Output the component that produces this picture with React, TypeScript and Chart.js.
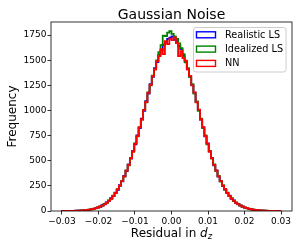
import { useEffect, useRef } from "react";
import { Chart, registerables } from "chart.js";

Chart.register(...registerables);

// Histogram binning (range -0.03 .. 0.03, 100 bins)
const BIN_START = -0.03;
const BIN_WIDTH = 0.0006;

const seriesLabels = ["Realistic LS", "Idealized LS", "NN"];
const seriesColors = ["#0000ff", "#008000", "#ff0000"];

const realisticCounts = [
  0, 0, 1, 2, 1, 2, 3, 3, 5, 6, 7, 11, 12, 18, 21, 29, 36, 42, 57, 66,
  86, 101, 127, 148, 183, 211, 256, 294, 350, 396, 463, 520, 598, 664, 751, 825, 918, 996, 1092, 1168,
  1262, 1334, 1421, 1480, 1555, 1598, 1655, 1678, 1712, 1725,
  1738, 1702, 1690, 1642, 1610, 1543, 1490, 1409, 1343, 1252, 1178, 1082, 1004, 909, 833, 742, 672, 590, 528, 455,
  404, 341, 300, 249, 217, 177, 153, 121, 105, 81, 70, 53, 45, 33, 29, 20, 18, 12, 11, 7,
  6, 4, 4, 2, 2, 1, 1, 0, 1, 0,
];

const idealizedCounts = [
  1, 0, 1, 1, 2, 1, 2, 4, 4, 5, 9, 9, 14, 16, 23, 27, 34, 46, 53, 70,
  82, 105, 122, 153, 177, 218, 250, 300, 342, 405, 455, 528, 590, 673, 742, 834, 908, 1006, 1081, 1180,
  1250, 1346, 1408, 1497, 1580, 1650, 1745, 1740, 1775, 1790,
  1762, 1738, 1712, 1668, 1620, 1560, 1478, 1420, 1332, 1262, 1168, 1090, 995, 918, 824, 752, 663, 598, 520, 463,
  396, 350, 292, 256, 210, 183, 147, 128, 99, 86, 66, 57, 42, 37, 26, 23, 15, 14, 9, 8,
  5, 5, 3, 2, 1, 2, 0, 1, 0, 0,
];

const nnCounts = [
  0, 1, 0, 1, 2, 2, 3, 3, 4, 7, 8, 10, 14, 17, 21, 29, 35, 45, 54, 69,
  83, 104, 124, 151, 179, 216, 252, 298, 345, 402, 458, 526, 592, 670, 745, 832, 910, 1004, 1084, 1176,
  1254, 1342, 1410, 1490, 1540, 1610, 1560, 1690, 1660, 1715,
  1700, 1728, 1670, 1540, 1590, 1520, 1496, 1410, 1345, 1250, 1180, 1080, 1008, 910, 832, 744, 671, 592, 526, 458,
  402, 344, 298, 250, 216, 179, 151, 123, 104, 82, 69, 54, 45, 34, 28, 21, 17, 13, 10, 8,
  6, 4, 3, 3, 2, 1, 1, 1, 0, 0,
];

const xTicks = [-0.03, -0.02, -0.01, 0, 0.01, 0.02, 0.03];
const yTicks = [0, 250, 500, 750, 1000, 1250, 1500, 1750];

const X_MIN = -0.033;
const X_MAX = 0.033;
const Y_MIN = 0;
const Y_MAX = 1880;

const TITLE = "Gaussian Noise";
const Y_LABEL = "Frequency";
const X_LABEL_MAIN = "Residual in ";
const X_LABEL_VAR = "d";
const X_LABEL_SUB = "z";

const FONT = '"DejaVu Sans", sans-serif';

function toSteps(counts: number[]) {
  const pts: { x: number; y: number }[] = [{ x: BIN_START, y: 0 }];
  counts.forEach((c, i) => pts.push({ x: BIN_START + i * BIN_WIDTH, y: c }));
  pts.push({ x: BIN_START + counts.length * BIN_WIDTH, y: 0 });
  return pts;
}

function fmtX(v: number) {
  return Number(v).toFixed(2).replace("-", "\u2212");
}

const decorPlugin = {
  id: "decor",
  afterDatasetsDraw(chart: any) {
    const { ctx, chartArea } = chart;
    const { left, top, right, bottom } = chartArea;
    ctx.save();
    ctx.strokeStyle = "#000";
    ctx.lineWidth = 0.8;
    ctx.strokeRect(left, top, right - left, bottom - top);
    ctx.restore();
  },
  afterDraw(chart: any) {
    const { ctx, chartArea } = chart;
    const { left, top, right, bottom } = chartArea;
    const cx = (left + right) / 2;
    ctx.save();
    ctx.fillStyle = "#000";
    // Title
    ctx.font = `14px ${FONT}`;
    ctx.textAlign = "center";
    ctx.textBaseline = "alphabetic";
    ctx.fillText(TITLE, cx, 18.5);

    // X label with italic subscripted variable
    const mainFont = `12px ${FONT}`;
    const varFont = `italic 12px ${FONT}`;
    const subFont = `italic 8.5px ${FONT}`;
    ctx.font = mainFont;
    const w1 = ctx.measureText(X_LABEL_MAIN).width;
    ctx.font = varFont;
    const w2 = ctx.measureText(X_LABEL_VAR).width;
    ctx.font = subFont;
    const w3 = ctx.measureText(X_LABEL_SUB).width;
    const total = w1 + w2 + w3;
    let x0 = cx - total / 2;
    const base = 237;
    ctx.textAlign = "left";
    ctx.font = mainFont;
    ctx.fillText(X_LABEL_MAIN, x0, base);
    x0 += w1;
    ctx.font = varFont;
    ctx.fillText(X_LABEL_VAR, x0, base);
    x0 += w2;
    ctx.font = subFont;
    ctx.fillText(X_LABEL_SUB, x0, base + 2.2);

    // Y label
    ctx.save();
    ctx.translate(16, (top + bottom) / 2);
    ctx.rotate(-Math.PI / 2);
    ctx.font = `12px ${FONT}`;
    ctx.textAlign = "center";
    ctx.fillText(Y_LABEL, 0, 0);
    ctx.restore();

    // Legend
    const bx = 193.5, by = 27.5, bw = 92.5, bh = 44.5, r = 2.5;
    ctx.beginPath();
    ctx.moveTo(bx + r, by);
    ctx.lineTo(bx + bw - r, by);
    ctx.arcTo(bx + bw, by, bx + bw, by + r, r);
    ctx.lineTo(bx + bw, by + bh - r);
    ctx.arcTo(bx + bw, by + bh, bx + bw - r, by + bh, r);
    ctx.lineTo(bx + r, by + bh);
    ctx.arcTo(bx, by + bh, bx, by + bh - r, r);
    ctx.lineTo(bx, by + r);
    ctx.arcTo(bx, by, bx + r, by, r);
    ctx.closePath();
    ctx.fillStyle = "rgba(255,255,255,0.8)";
    ctx.fill();
    ctx.strokeStyle = "#cccccc";
    ctx.lineWidth = 1;
    ctx.stroke();

    ctx.font = `9.7px ${FONT}`;
    ctx.textAlign = "left";
    ctx.textBaseline = "middle";
    seriesLabels.forEach((lab, i) => {
      const cy = 34.8 + i * 14.3;
      ctx.strokeStyle = seriesColors[i];
      ctx.lineWidth = 1.4;
      ctx.strokeRect(196.5, cy - 3, 19, 6);
      ctx.fillStyle = "#000";
      ctx.fillText(lab, 225, cy + 0.5);
    });
    ctx.restore();
  },
};

export default function App() {
  const ref = useRef<HTMLCanvasElement | null>(null);
  useEffect(() => {
    document.body.style.margin = "0";
    const canvas = ref.current;
    if (!canvas) return;
    const counts = [realisticCounts, idealizedCounts, nnCounts];
    const chart = new Chart(canvas, {
      type: "line",
      data: {
        datasets: counts.map((c, i) => ({
          label: seriesLabels[i],
          data: toSteps(c),
          borderColor: seriesColors[i],
          backgroundColor: seriesColors[i],
          borderWidth: 1.8,
          pointRadius: 0,
          fill: false,
          stepped: true,
          tension: 0,
          order: 3 - i,
        })),
      },
      options: {
        animation: false,
        responsive: false,
        devicePixelRatio: 1,
        layout: { padding: { top: 22, right: 7, left: 0, bottom: 0 } },
        plugins: {
          legend: { display: false },
          title: { display: false },
          tooltip: { enabled: false },
        },
        scales: {
          x: {
            type: "linear",
            min: X_MIN,
            max: X_MAX,
            afterBuildTicks: (s: any) => {
              s.ticks = xTicks.map((v) => ({ value: v }));
            },
            afterFit: (s: any) => {
              s.height = 38;
            },
            grid: {
              drawOnChartArea: false,
              drawTicks: true,
              tickLength: 3.5,
              color: "#000",
              lineWidth: 0.8,
            },
            border: { display: false },
            ticks: {
              padding: 1.5,
              color: "#000",
              maxRotation: 0,
              autoSkip: false,
              font: { family: FONT, size: 9 },
              callback: (v: any) => fmtX(Number(v)),
            },
          },
          y: {
            type: "linear",
            min: Y_MIN,
            max: Y_MAX,
            afterBuildTicks: (s: any) => {
              s.ticks = yTicks.map((v) => ({ value: v }));
            },
            afterFit: (s: any) => {
              s.width = 51;
            },
            grid: {
              drawOnChartArea: false,
              drawTicks: true,
              tickLength: 3.5,
              color: "#000",
              lineWidth: 0.8,
            },
            border: { display: false },
            ticks: {
              padding: 1,
              color: "#000",
              autoSkip: false,
              font: { family: FONT, size: 9 },
              callback: (v: any) => String(v),
            },
          },
        },
      },
      plugins: [decorPlugin],
    } as any);
    return () => chart.destroy();
  }, []);
  return (
    <div style={{ width: 299, height: 249 }}>
      <canvas ref={ref} width={299} height={249} style={{ display: "block" }} />
    </div>
  );
}
